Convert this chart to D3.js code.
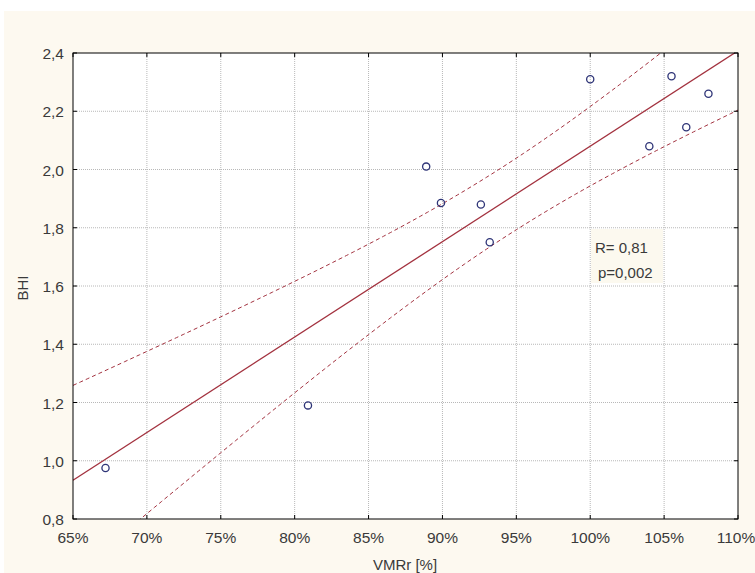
<!DOCTYPE html>
<html>
<head>
<meta charset="utf-8">
<script src="https://cdn.jsdelivr.net/npm/d3@7"></script>
<style>
  body { margin: 0; background: #fff; }
  text { font-family: "Liberation Sans", Arial, sans-serif; fill: #3a3a3a; }
</style>
</head>
<body>
<div class="chart"></div>
<script>
var width = 755,
    height = 573;

// VMRr [%] and BHI values
var vmr = [67.2, 80.9, 88.9, 89.9, 92.6, 93.2, 100.0, 104.0, 105.5, 106.5, 108.0];
var bhi = [0.975, 1.19, 2.01, 1.885, 1.88, 1.75, 2.31, 2.08, 2.32, 2.145, 2.26];

var xTicks = [65, 70, 75, 80, 85, 90, 95, 100, 105, 110];
var yTicks = [0.8, 1.0, 1.2, 1.4, 1.6, 1.8, 2.0, 2.2, 2.4];
var statLines = ["R= 0,81", "p=0,002"];

var margin = {top: 53, right: 17, bottom: 54, left: 73};

var x = d3.scaleLinear().domain([65, 110]).range([margin.left, width - margin.right]);
var y = d3.scaleLinear().domain([0.8, 2.4]).range([height - margin.bottom, margin.top]);

var fmtY = function(d) { return d3.format(".1f")(d).replace(".", ","); };
var fmtX = function(d) { return d + "%"; };

var svg = d3.select(".chart").append("svg")
    .attr("width", width)
    .attr("height", height);

// cream background
svg.append("rect")
    .attr("x", 4).attr("y", 11)
    .attr("width", width - 4).attr("height", height - 11)
    .attr("fill", "#fdf9f0");

// plot area
svg.append("rect")
    .attr("x", x(65)).attr("y", y(2.4))
    .attr("width", x(110) - x(65)).attr("height", y(0.8) - y(2.4))
    .attr("fill", "#fff");

svg.append("clipPath").attr("id", "plot-clip")
  .append("rect")
    .attr("x", x(65)).attr("y", y(2.4))
    .attr("width", x(110) - x(65)).attr("height", y(0.8) - y(2.4));

// grid lines
svg.append("g").selectAll("line")
    .data(xTicks.slice(1, -1))
    .enter().append("line")
    .attr("x1", d => x(d)).attr("x2", d => x(d))
    .attr("y1", y(2.4)).attr("y2", y(0.8))
    .style("stroke", "#b8b8b8")
    .style("stroke-dasharray", "1,1");

svg.append("g").selectAll("line")
    .data(yTicks.slice(1, -1))
    .enter().append("line")
    .attr("x1", x(65)).attr("x2", x(110))
    .attr("y1", d => y(d)).attr("y2", d => y(d))
    .style("stroke", "#b8b8b8")
    .style("stroke-dasharray", "1,1");

// linear regression + 95% confidence band
var n = vmr.length;
var mx = d3.mean(vmr), my = d3.mean(bhi);
var sxx = d3.sum(vmr, d => (d - mx) * (d - mx));
var sxy = d3.sum(vmr, (d, i) => (d - mx) * (bhi[i] - my));
var slope = sxy / sxx;
var icpt = my - slope * mx;
var sse = d3.sum(vmr, (d, i) => Math.pow(bhi[i] - (icpt + slope * d), 2));
var s = Math.sqrt(sse / (n - 2));
var tval = 2.262; // t(0.975, 9)

function fit(v) { return icpt + slope * v; }
function half(v) { return tval * s * Math.sqrt(1 / n + (v - mx) * (v - mx) / sxx); }

var xs = d3.range(65, 110.01, 0.5);
var line = d3.line().x(d => x(d[0])).y(d => y(d[1]));

var fitG = svg.append("g").attr("clip-path", "url(#plot-clip)");

fitG.append("path")
    .datum([[65, fit(65)], [110, fit(110)]])
    .attr("d", line)
    .style("fill", "none")
    .style("stroke", "#a3323f")
    .style("stroke-width", 1.3);

[1, -1].forEach(function(sign) {
  fitG.append("path")
      .datum(xs.map(v => [v, fit(v) + sign * half(v)]))
      .attr("d", line)
      .style("fill", "none")
      .style("stroke", "#a3323f")
      .style("stroke-width", 1)
      .style("stroke-dasharray", "4,3");
});

// points
svg.append("g").selectAll("circle")
    .data(vmr)
    .enter().append("circle")
    .attr("cx", d => x(d))
    .attr("cy", (d, i) => y(bhi[i]))
    .attr("r", 3.6)
    .style("fill", "none")
    .style("stroke", "#2e3477")
    .style("stroke-width", 1.3);

// frame
svg.append("rect")
    .attr("x", x(65)).attr("y", y(2.4))
    .attr("width", x(110) - x(65)).attr("height", y(0.8) - y(2.4))
    .style("fill", "none")
    .style("stroke", "#000")
    .style("stroke-width", 1);

// small inward ticks on all sides
var tickG = svg.append("g").style("stroke", "#000");
xTicks.forEach(function(d) {
  tickG.append("line").attr("x1", x(d)).attr("x2", x(d)).attr("y1", y(0.8)).attr("y2", y(0.8) - 4);
  tickG.append("line").attr("x1", x(d)).attr("x2", x(d)).attr("y1", y(2.4)).attr("y2", y(2.4) + 4);
});
yTicks.forEach(function(d) {
  tickG.append("line").attr("x1", x(65)).attr("x2", x(65) + 4).attr("y1", y(d)).attr("y2", y(d));
  tickG.append("line").attr("x1", x(110)).attr("x2", x(110) - 4).attr("y1", y(d)).attr("y2", y(d));
});

// tick labels
svg.append("g").selectAll("text")
    .data(yTicks)
    .enter().append("text")
    .attr("x", x(65) - 9)
    .attr("y", d => y(d) + 6)
    .attr("text-anchor", "end")
    .style("font-size", "15.5px")
    .text(fmtY);

svg.append("g").selectAll("text")
    .data(xTicks)
    .enter().append("text")
    .attr("x", d => Math.min(x(d), width - 19))
    .attr("y", y(0.8) + 24)
    .attr("text-anchor", "middle")
    .style("font-size", "15.5px")
    .text(fmtX);

// axis titles
svg.append("text")
    .attr("x", 405)
    .attr("y", 570)
    .attr("text-anchor", "middle")
    .style("font-size", "15px")
    .text("VMRr [%]");

svg.append("text")
    .attr("transform", "translate(28," + 288 + ") rotate(-90)")
    .attr("text-anchor", "middle")
    .style("font-size", "15px")
    .text("BHI");

// statistics box
svg.append("rect")
    .attr("x", 591).attr("y", 229)
    .attr("width", 72).attr("height", 54)
    .attr("fill", "#fcf9ef");

svg.append("g").selectAll("text")
    .data(statLines)
    .enter().append("text")
    .attr("x", (d, i) => 595 + i * 3)
    .attr("y", (d, i) => 253 + i * 25)
    .style("font-size", "15px")
    .text(d => d);
</script>
</body>
</html>
